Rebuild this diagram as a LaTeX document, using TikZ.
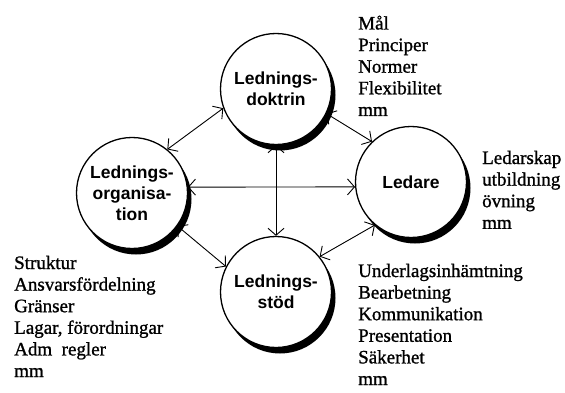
\documentclass[tikz,border=0pt]{standalone}
\usepackage{fontspec}
\setmainfont{Liberation Serif}
\newfontfamily\lserif{Liberation Serif}[FakeBold=1.1]
\newfontfamily\lsans{Liberation Sans}
\usetikzlibrary{arrows.meta,shadows,backgrounds}
\begin{document}
\begin{tikzpicture}[x=1pt,y=-1pt,
  bub/.style={circle,draw=black,line width=1.3pt,fill=white,minimum size=111pt,inner sep=0pt,align=center,
    font=\lsans\bfseries\fontsize{17.5}{21}\selectfont,
    drop shadow={shadow xshift=4pt,shadow yshift=-6pt,fill=black,opacity=1}},
  lst/.style={anchor=base west,align=left,inner sep=0pt,font=\lserif\fontsize{19}{21.6}\selectfont},
  conn/.style={line width=0.9pt,{Straight Barb[length=7pt,width=16pt]}-{Straight Barb[length=7pt,width=16pt]}}]
\useasboundingbox (0,0) rectangle (565,393);
\node[bub] (d) at (276,89) {Lednings-\\doktrin};
\node[bub] (o) at (132,193) {Lednings-\\organisa-\\tion};
\node[bub] (l) at (411,182) {Ledare};
\node[bub] (s) at (276,292) {Lednings-\\stöd};
\begin{scope}[on background layer]
\draw[conn] (o.51) -- (d.200);
\draw[conn] (d.-26) -- (l.134);
\draw[conn] (d.south) -- (s.north);
\draw[conn] (o.6) -- (l.185);
\draw[conn] (o.-36) -- (s.153);
\draw[conn] (s.39) -- (l.230);
\end{scope}
\node[lst] (t1) at (358,115.9) {Mål\\Principer\\Normer\\Flexibilitet\\mm};
\node[lst] (t2) at (482,228.8) {Ledarskap\\utbildning\\övning\\mm};
\node[lst] (t3) at (14,377) {Struktur\\Ansvarsfördelning\\Gränser\\Lagar, förordningar\\Adm\ \ regler\\mm};
\node[lst] (t4) at (358,385) {Underlagsinhämtning\\Bearbetning\\Kommunikation\\Presentation\\Säkerhet\\mm};
\end{tikzpicture}
\end{document}
